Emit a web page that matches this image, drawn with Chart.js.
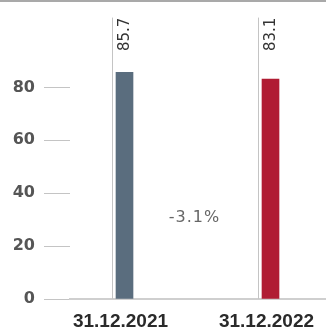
<!DOCTYPE html>
<html>
<head>
<meta charset="utf-8">
<script src="https://cdn.jsdelivr.net/npm/chart.js@4"></script>
<style>
  html, body { margin: 0; padding: 0; background: #fff; overflow: hidden; }
  .wrap { position: relative; width: 326px; height: 345px; }
  .topline { position: absolute; left: 0; top: 0; width: 326px; height: 2px; background: #a9a9a9; z-index: 2; }
</style>
</head>
<body>
<div class="wrap">
  <div class="topline"></div>
  <canvas class="bar-chart"></canvas>
</div>
<script>
const categories = ['31.12.2021', '31.12.2022'];
const values = [85.7, 83.1];
const barColors = ['#5a6d7e', '#b01c33'];
const yTicks = [0, 20, 40, 60, 80];
const changeLabel = '-3.1%';

const fontFamily = '"DejaVu Sans", sans-serif';

// value labels, thin lines next to bars and the change text
const extras = {
  id: 'extras',
  afterDatasetsDraw(chart) {
    const { ctx, chartArea, scales } = chart;
    const meta = chart.getDatasetMeta(0);
    ctx.save();
    meta.data.forEach((bar, i) => {
      const lx = Math.round(bar.x - 13) + 0.5;
      ctx.strokeStyle = '#c4c4c4';
      ctx.lineWidth = 1;
      ctx.beginPath();
      ctx.moveTo(lx, chartArea.top - 1);
      ctx.lineTo(lx, chartArea.bottom);
      ctx.stroke();

      ctx.save();
      ctx.translate(bar.x + 1, chartArea.top - 1);
      ctx.rotate(-Math.PI / 2);
      ctx.font = '15px ' + fontFamily;
      ctx.fillStyle = '#333';
      ctx.textAlign = 'right';
      ctx.textBaseline = 'middle';
      ctx.fillText(values[i].toFixed(1), 0, 0);
      ctx.restore();
    });

    const mx = (meta.data[0].x + meta.data[1].x) / 2 - 3;
    const my = scales.y.getPixelForValue(30.5);
    ctx.font = '16px ' + fontFamily;
    ctx.letterSpacing = '1px';
    ctx.fillStyle = '#666';
    ctx.textAlign = 'center';
    ctx.textBaseline = 'middle';
    ctx.fillText(changeLabel, mx, my);
    ctx.restore();
  },
};

new Chart(document.querySelector('.bar-chart'), {
  type: 'bar',
  data: {
    datasets: [
      {
        data: values.map((v, i) => ({ x: i, y: v })),
        backgroundColor: barColors,
        borderWidth: 0,
        barThickness: 17,
      },
    ],
  },
  options: {
    responsive: true,
    maintainAspectRatio: false,
    animation: false,
    events: [],
    layout: { padding: { top: 18, right: 0, left: 0, bottom: 0 } },
    plugins: {
      legend: { display: false },
      tooltip: { enabled: false },
    },
    scales: {
      x: {
        type: 'linear',
        offset: false,
        bounds: 'data',
        min: -0.3733,
        max: 1.3801,
        afterBuildTicks: (scale) => {
          scale.ticks = categories.map((c, i) => ({ value: i }));
        },
        afterFit: (scale) => {
          scale.height = 46;
          scale.paddingLeft = 0;
          scale.paddingRight = 0;
        },
        grid: { display: false, drawTicks: false, offset: false },
        border: { display: true, color: '#cfcfcf', width: 2 },
        ticks: {
          callback: (v) => categories[v],
          labelOffset: -4,
          padding: 11,
          maxRotation: 0,
          autoSkip: false,
          color: '#2a2a2a',
          font: { family: '"Liberation Sans", sans-serif', size: 19, weight: 'bold' },
        },
      },
      y: {
        min: 0,
        max: 106,
        afterBuildTicks: (scale) => {
          scale.ticks = yTicks.map((v) => ({ value: v }));
        },
        afterFit: (scale) => { scale.width = 70; },
        grid: {
          drawOnChartArea: false,
          drawTicks: true,
          tickLength: 26,
          tickColor: '#c4c4c4',
          lineWidth: 1,
        },
        border: { display: false },
        ticks: {
          padding: 9,
          color: '#555',
          font: { family: fontFamily, size: 16, weight: 'bold' },
        },
      },
    },
  },
  plugins: [extras],
});
</script>
</body>
</html>
